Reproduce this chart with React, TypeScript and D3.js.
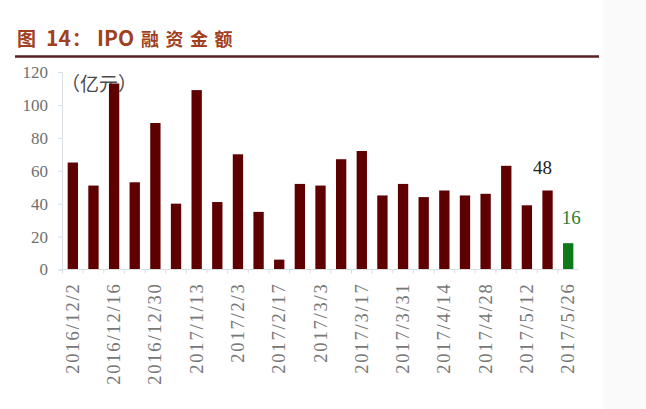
import React, { useEffect, useRef } from 'react';
import * as d3 from 'd3';

// weekly dates (week of 2017/1/27 missing, Spring Festival)
const dates = [
  '2016/12/2', '2016/12/9', '2016/12/16', '2016/12/23', '2016/12/30',
  '2017/1/6', '2017/1/13', '2017/1/20', '2017/2/3', '2017/2/10',
  '2017/2/17', '2017/2/24', '2017/3/3', '2017/3/10', '2017/3/17',
  '2017/3/24', '2017/3/31', '2017/4/7', '2017/4/14', '2017/4/21',
  '2017/4/28', '2017/5/5', '2017/5/12', '2017/5/19', '2017/5/26',
];
const amounts = [65, 51, 113, 53, 89, 40, 109, 41, 70, 35, 6, 52, 51, 67, 72, 45, 52, 44, 48, 45, 46, 63, 39, 48, 16];
const yTicks = [0, 20, 40, 60, 80, 100, 120];
const labelled = ['2017/5/19', '2017/5/26'];

const App = () => {
  const svgRef = useRef(null);

  useEffect(() => {
    document.body.style.margin = '0';
    const svg = d3.select(svgRef.current);
    svg.selectAll('*').remove();

    const W = 646, H = 409;
    const margin = { left: 62, right: 68, top: 72, bottom: 140 };

    svg.append('rect').attr('width', W).attr('height', H).attr('fill', '#fff');
    svg.append('rect').attr('x', 603).attr('width', W - 603).attr('height', H).attr('fill', '#fafafa');

    // Title
    const title = svg.append('text')
      .attr('y', 46)
      .attr('font-family', '"Noto Sans CJK SC", sans-serif')
      .attr('font-weight', 'bold')
      .attr('fill', '#a0401c');
    title.append('tspan').attr('x', 17).attr('font-size', 19).text('图');
    title.append('tspan').attr('x', 46).attr('font-size', 21).text('14');
    title.append('tspan').attr('x', 72).attr('font-size', 19).text('：');
    title.append('tspan').attr('x', 97).attr('font-size', 21).text('IPO');
    title.append('tspan').attr('x', 141).attr('font-size', 18).attr('letter-spacing', 6.5).text('融资金额');
    svg.append('line')
      .attr('x1', 15).attr('x2', 599).attr('y1', 56.5).attr('y2', 56.5)
      .attr('stroke', '#5a2020').attr('stroke-width', 2.5);

    // Unit
    svg.append('text')
      .attr('x', 61).attr('y', 91)
      .attr('font-family', '"Noto Sans CJK SC", serif')
      .attr('font-size', 19)
      .attr('fill', '#4a4a4a')
      .text('（亿元）');

    const x = d3.scaleBand()
      .domain(dates)
      .range([margin.left + 0.5, W - margin.right + 0.5])
      .paddingInner(0.5)
      .paddingOuter(0.25);

    const y = d3.scaleLinear()
      .domain([0, 120])
      .range([269.5, 72]);

    const g = svg.append('g');

    // Y axis
    const yAxis = d3.axisLeft(y).tickValues(yTicks).tickSize(4).tickPadding(10);
    const ya = g.append('g').attr('transform', `translate(${margin.left},0)`).call(yAxis);
    ya.select('.domain').attr('stroke', '#d9dee4');
    ya.selectAll('.tick line').attr('stroke', '#d9dee4');
    ya.selectAll('.tick text')
      .attr('font-family', '"Liberation Serif", serif')
      .attr('font-size', 17)
      .attr('fill', '#707070');

    // Bars
    g.selectAll('rect.bar')
      .data(amounts)
      .join('rect')
      .attr('class', 'bar')
      .attr('x', (d, i) => x(dates[i]))
      .attr('width', x.bandwidth())
      .attr('y', d => y(d))
      .attr('height', d => y(0) - y(d))
      .attr('fill', (d, i) => (i === amounts.length - 1 ? '#0d7a1a' : '#5e0000'));

    // X axis
    const xa = g.append('g').attr('transform', `translate(0,${y(0)})`);
    xa.append('line')
      .attr('x1', margin.left).attr('x2', W - margin.right)
      .attr('stroke', '#d9dee4');
    const step = x.step();
    xa.selectAll('line.tk')
      .data(dates)
      .join('line')
      .attr('class', 'tk')
      .attr('x1', d => x(d) - step * 0.25)
      .attr('x2', d => x(d) - step * 0.25)
      .attr('y1', 0).attr('y2', 4)
      .attr('stroke', '#d9dee4');

    xa.selectAll('text')
      .data(dates.filter((d, i) => i % 2 === 0))
      .join('text')
      .attr('transform', d => `translate(${x(d) + x.bandwidth() / 2 + 6},13) rotate(-90)`)
      .attr('text-anchor', 'end')
      .attr('font-family', '"Liberation Serif", serif')
      .attr('font-size', 18.5)
      .attr('letter-spacing', 1.8)
      .attr('fill', '#777')
      .text(d => d);

    // Value labels
    g.selectAll('text.val')
      .data(labelled)
      .join('text')
      .attr('class', 'val')
      .attr('x', d => x(d) + x.bandwidth() / 2 - (d === '2017/5/19' ? 5 : -3))
      .attr('y', d => y(amounts[dates.indexOf(d)]) - (d === '2017/5/19' ? 17 : 19))
      .attr('text-anchor', 'middle')
      .attr('font-family', '"Liberation Serif", serif')
      .attr('font-size', 19)
      .attr('fill', d => (d === '2017/5/26' ? '#2e7d32' : '#222'))
      .text(d => amounts[dates.indexOf(d)]);
  }, []);

  return <svg ref={svgRef} width={646} height={409} style={{ display: 'block' }} />;
};

export default App;
